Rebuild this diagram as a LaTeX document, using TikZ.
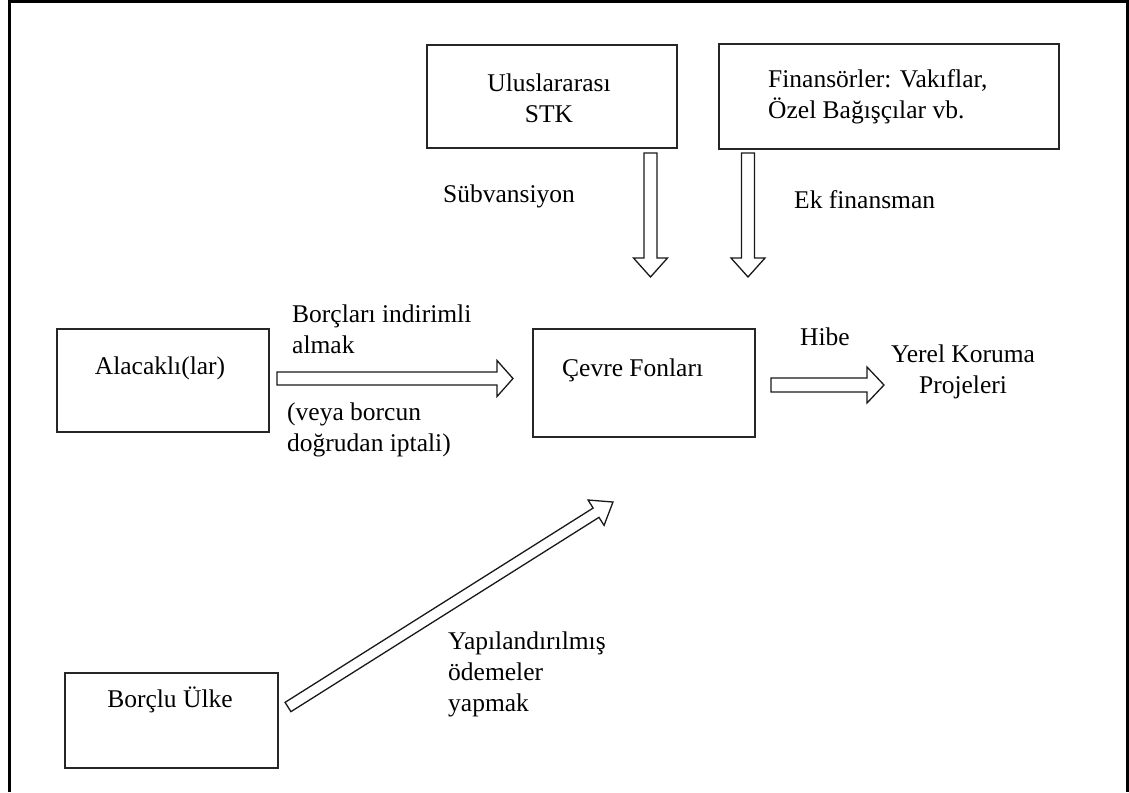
\documentclass[tikz,border=0pt]{standalone}
\usepackage{fontspec}
\setmainfont{Liberation Serif}
\usetikzlibrary{calc}
\newcommand{\blockarrow}[5]{%
  \draw[barrow] let \p1=(#1), \p2=(#2), \n1={atan2(\y2-\y1,\x2-\x1)}, \n2={veclen(\x2-\x1,\y2-\y1)} in
    [shift={(\p1)}, rotate=\n1]
    (0,#3) -- ({\n2-#5},#3) -- ({\n2-#5},#4) -- (\n2,0) -- ({\n2-#5},-#4) -- ({\n2-#5},-#3) -- (0,-#3) -- cycle;}
\begin{document}
\begin{tikzpicture}[x=1pt,y=-1pt,
  box/.style={draw=black!85, line width=1.3pt, minimum width=#1, inner sep=0pt},
  lbl/.style={inner sep=0pt, font=\fontsize{25.5}{31}\selectfont},
  barrow/.style={draw=black!90, line width=1.3pt, fill=white, line join=miter}]
\useasboundingbox (0,0) rectangle (1129,792);
% outer frame
\draw[line width=3pt] (9.5,792) -- (9.5,1.5) -- (1127.5,1.5) -- (1127.5,792);
% boxes
\node[box=250pt, minimum height=103pt] (stk) at (552,96.5) {};
\node[box=340pt, minimum height=105pt] (fin) at (889,96.5) {};
\node[box=212pt, minimum height=103pt] (alac) at (163,380.5) {};
\node[box=222pt, minimum height=108pt] (cevre) at (644,383) {};
\node[box=213pt, minimum height=95pt] (borclu) at (171.5,720.5) {};
% box texts
\node[lbl, align=center] (tstk) at (549,98) {Uluslararası\\STK};
\node[lbl, align=left, anchor=west] (tfin) at (768,97) {Finansörler: Vakıflar,\\Özel Bağışçılar vb.};
\node[lbl] (talac) at (160,368) {Alacaklı(lar)};
\node[lbl, anchor=west] (tcevre) at (562,370) {Çevre Fonları};
\node[lbl] (tborclu) at (170,700) {Borçlu Ülke};
\node[lbl, align=center] (yerel) at (963,372) {Yerel Koruma\\Projeleri};
% arrow end points
\coordinate (s1) at (650.5,153);  \coordinate (e1) at (650.5,277);
\coordinate (s2) at (748,153);    \coordinate (e2) at (748,277);
\coordinate (s3) at (277,378.5);  \coordinate (e3) at (513,378.5);
\coordinate (s4) at (771,385);    \coordinate (e4) at (884,385);
\coordinate (s5) at (288,707);    \coordinate (e5) at (613,502);
\blockarrow{s1}{e1}{6.5}{17}{19}
\blockarrow{s2}{e2}{6.5}{17}{19}
\blockarrow{s3}{e3}{6.5}{18}{16}
\blockarrow{s4}{e4}{7}{18}{17}
\blockarrow{s5}{e5}{5.5}{15}{20}
% arrow labels
\node[lbl, anchor=west] (lsub) at (443,196) {Sübvansiyon};
\node[lbl, anchor=west] (lek) at (794,200) {Ek finansman};
\node[lbl, anchor=west, align=left] (lborc) at (292,329) {Borçları indirimli\\almak};
\node[lbl, anchor=west, align=left] (lveya) at (287,430) {(veya borcun\\doğrudan iptali)};
\node[lbl, anchor=west] (lhibe) at (800,337) {Hibe};
\node[lbl, anchor=west, align=left] (lyap) at (448,674) {Yapılandırılmış\\ödemeler\\yapmak};
\end{tikzpicture}
\end{document}
